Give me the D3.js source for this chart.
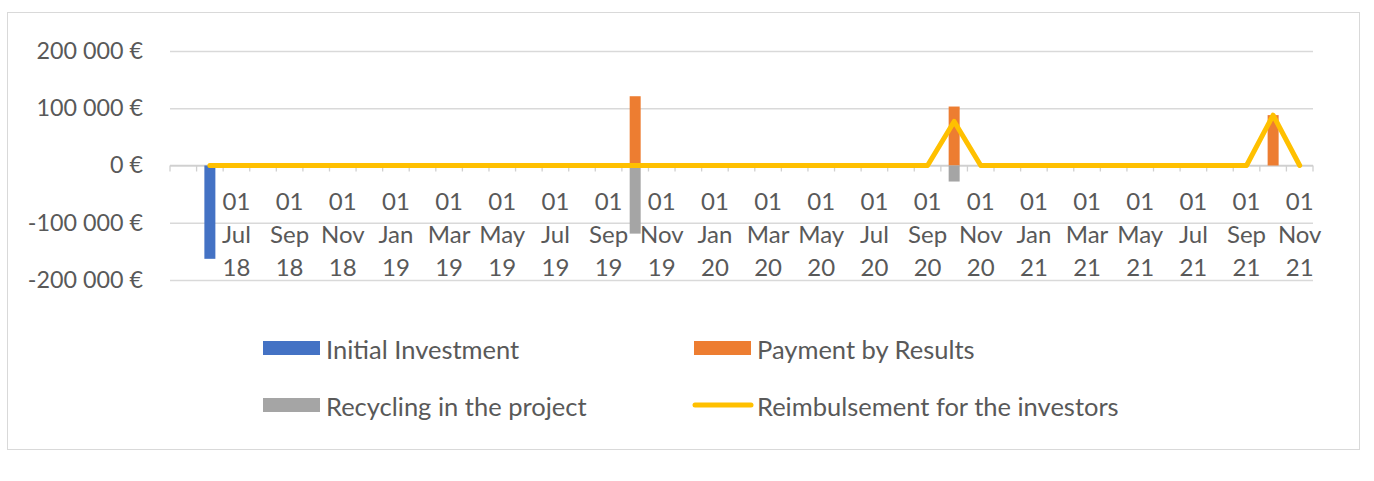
<!DOCTYPE html>
<html lang="en">
<head>
    <meta charset="UTF-8">
    <title>Cash flows</title>
    <style>
        body { margin: 0; background: #fff; }
        text { font-family: Lato, "Open Sans", sans-serif; fill: #595959; }
    </style>
</head>
<body>
    <div id="chart"></div>
    <script src="https://d3js.org/d3.v7.min.js"></script>
    <script>

    // ---- data (one entry per month, May 18 -> Nov 21) ----
    const months = [
        "May 18", "Jun 18", "Jul 18", "Aug 18", "Sep 18", "Oct 18", "Nov 18", "Dec 18",
        "Jan 19", "Feb 19", "Mar 19", "Apr 19", "May 19", "Jun 19", "Jul 19", "Aug 19", "Sep 19", "Oct 19", "Nov 19", "Dec 19",
        "Jan 20", "Feb 20", "Mar 20", "Apr 20", "May 20", "Jun 20", "Jul 20", "Aug 20", "Sep 20", "Oct 20", "Nov 20", "Dec 20",
        "Jan 21", "Feb 21", "Mar 21", "Apr 21", "May 21", "Jun 21", "Jul 21", "Aug 21", "Sep 21", "Oct 21", "Nov 21"
    ];

    // months that carry an axis label ("01 Jul 18" etc)
    const tickMonths = [
        "Jul 18", "Sep 18", "Nov 18",
        "Jan 19", "Mar 19", "May 19", "Jul 19", "Sep 19", "Nov 19",
        "Jan 20", "Mar 20", "May 20", "Jul 20", "Sep 20", "Nov 20",
        "Jan 21", "Mar 21", "May 21", "Jul 21", "Sep 21", "Nov 21"
    ];

    const initialInvestment = [
        null, -163000, 0, 0, 0, 0, 0, 0,
        0, 0, 0, 0, 0, 0, 0, 0, 0, 0, 0, 0,
        0, 0, 0, 0, 0, 0, 0, 0, 0, 0, 0, 0,
        0, 0, 0, 0, 0, 0, 0, 0, 0, 0, 0
    ];
    const paymentByResults = [
        null, 0, 0, 0, 0, 0, 0, 0,
        0, 0, 0, 0, 0, 0, 0, 0, 0, 121000, 0, 0,
        0, 0, 0, 0, 0, 0, 0, 0, 0, 103000, 0, 0,
        0, 0, 0, 0, 0, 0, 0, 0, 0, 88000, 0
    ];
    const recycling = [
        null, 0, 0, 0, 0, 0, 0, 0,
        0, 0, 0, 0, 0, 0, 0, 0, 0, -119000, 0, 0,
        0, 0, 0, 0, 0, 0, 0, 0, 0, -28000, 0, 0,
        0, 0, 0, 0, 0, 0, 0, 0, 0, 0, 0
    ];
    const reimbursement = [
        null, 0, 0, 0, 0, 0, 0, 0,
        0, 0, 0, 0, 0, 0, 0, 0, 0, 0, 0, 0,
        0, 0, 0, 0, 0, 0, 0, 0, 0, 77000, 0, 0,
        0, 0, 0, 0, 0, 0, 0, 0, 0, 88000, 0
    ];

    const yTicks = [-200000, -100000, 0, 100000, 200000];

    const barSeries = [
        {name: "Initial Investment", values: initialInvestment, color: "#4472C4"},
        {name: "Payment by Results", values: paymentByResults, color: "#ED7D31"},
        {name: "Recycling in the project", values: recycling, color: "#A5A5A5"}
    ];
    const lineSeries = {name: "Reimbulsement for the investors", values: reimbursement, color: "#FFC000"};

    // ---- page setup ----
    const W = 1374, H = 481;
    const plot = {left: 170, right: 1313, top: 51, bottom: 280};

    const svg = d3.select("#chart")
        .append("svg")
        .attr("width", W)
        .attr("height", H);

    // chart area border
    svg.append("rect")
        .attr("x", 7.5).attr("y", 12.5)
        .attr("width", 1352).attr("height", 437)
        .attr("fill", "#fff")
        .attr("stroke", "#d9d9d9");

    const x = d3.scaleBand()
        .domain(months)
        .range([plot.left, plot.right])
        .padding(0);

    const y = d3.scaleLinear()
        .domain([-200000, 200000])
        .range([plot.bottom, plot.top]);

    const euro = d3.formatLocale({decimal: ",", thousands: "\u00a0", grouping: [3], currency: ["", " €"], minus: "-"}).format("$,");

    // y axis + gridlines
    const yAxis = svg.append("g")
        .attr("transform", `translate(${plot.left},0)`)
        .call(d3.axisLeft(y)
            .tickValues(yTicks)
            .tickSize(-(plot.right - plot.left))
            .tickPadding(27)
            .tickFormat(d => euro(d).replace(/\u00a0/g, " ")));
    yAxis.select(".domain").remove();
    yAxis.selectAll("line").attr("stroke", "#d9d9d9").attr("stroke-width", 1.3);
    yAxis.selectAll("text")
        .attr("font-size", 23.3)
        .attr("fill", "#595959")
        .attr("font-family", "Lato");

    // horizontal category axis at 0 with month boundary ticks
    const y0 = y(0);
    const bounds = months.map(m => x(m)).concat([x.range()[1]]);
    svg.append("g")
        .selectAll("line")
        .data(bounds)
        .join("line")
        .attr("x1", d => d).attr("x2", d => d)
        .attr("y1", y0).attr("y2", y0 + 6)
        .attr("stroke", "#d0d0d0")
        .attr("stroke-width", 1.3);
    svg.append("line")
        .attr("x1", plot.left).attr("x2", plot.right)
        .attr("y1", y0).attr("y2", y0)
        .attr("stroke", "#d0d0d0")
        .attr("stroke-width", 1.3);

    // bars (same slot, overlapping)
    const barW = 11;
    barSeries.forEach(s => {
        svg.append("g")
            .selectAll("rect")
            .data(months.map((m, i) => ({m: m, v: s.values[i]})).filter(d => d.v))
            .join("rect")
            .attr("x", d => x(d.m) + x.bandwidth() / 2 - barW / 2)
            .attr("width", barW)
            .attr("y", d => Math.min(y(d.v), y0))
            .attr("height", d => Math.abs(y(d.v) - y0))
            .attr("fill", s.color);
    });

    // x labels: "01" / month / year
    const lbl = svg.append("g")
        .selectAll("text")
        .data(tickMonths)
        .join("text")
        .attr("text-anchor", "middle")
        .attr("font-size", 24);
    const lines = d => ["01"].concat(d.split(" "));
    lbl.selectAll("tspan")
        .data(d => lines(d).map(t => ({t: t, m: d})))
        .join("tspan")
        .attr("x", d => x(d.m) + x.bandwidth() / 2)
        .attr("y", (d, i) => y0 + 35 + i * 33)
        .attr("dominant-baseline", "central")
        .text(d => d.t);

    // line series
    const line = d3.line()
        .defined(d => d.v != null)
        .x(d => x(d.m) + x.bandwidth() / 2)
        .y(d => y(d.v));
    svg.append("path")
        .datum(months.map((m, i) => ({m: m, v: lineSeries.values[i]})))
        .attr("d", line)
        .attr("fill", "none")
        .attr("stroke", lineSeries.color)
        .attr("stroke-width", 5)
        .attr("stroke-linejoin", "round")
        .attr("stroke-linecap", "round");

    // legend, 2 x 2
    const legendItems = [
        {s: barSeries[0], col: 0, row: 0, type: "bar"},
        {s: barSeries[1], col: 1, row: 0, type: "bar"},
        {s: barSeries[2], col: 0, row: 1, type: "bar"},
        {s: lineSeries, col: 1, row: 1, type: "line"}
    ];
    const legCols = [263, 694], legRows = [348, 405];
    const leg = svg.append("g")
        .selectAll("g")
        .data(legendItems)
        .join("g")
        .attr("transform", d => `translate(${legCols[d.col]},${legRows[d.row]})`);
    leg.filter(d => d.type === "bar")
        .append("rect")
        .attr("x", 0).attr("y", -7)
        .attr("width", 57).attr("height", 14)
        .attr("fill", d => d.s.color);
    leg.filter(d => d.type === "line")
        .append("line")
        .attr("x1", 1).attr("x2", 57)
        .attr("stroke", d => d.s.color)
        .attr("stroke-width", 5)
        .attr("stroke-linecap", "round");
    leg.append("text")
        .attr("x", 63)
        .attr("y", 1)
        .attr("dominant-baseline", "central")
        .attr("font-size", 25.5)
        .text(d => d.s.name);

    </script>
</body>
</html>
